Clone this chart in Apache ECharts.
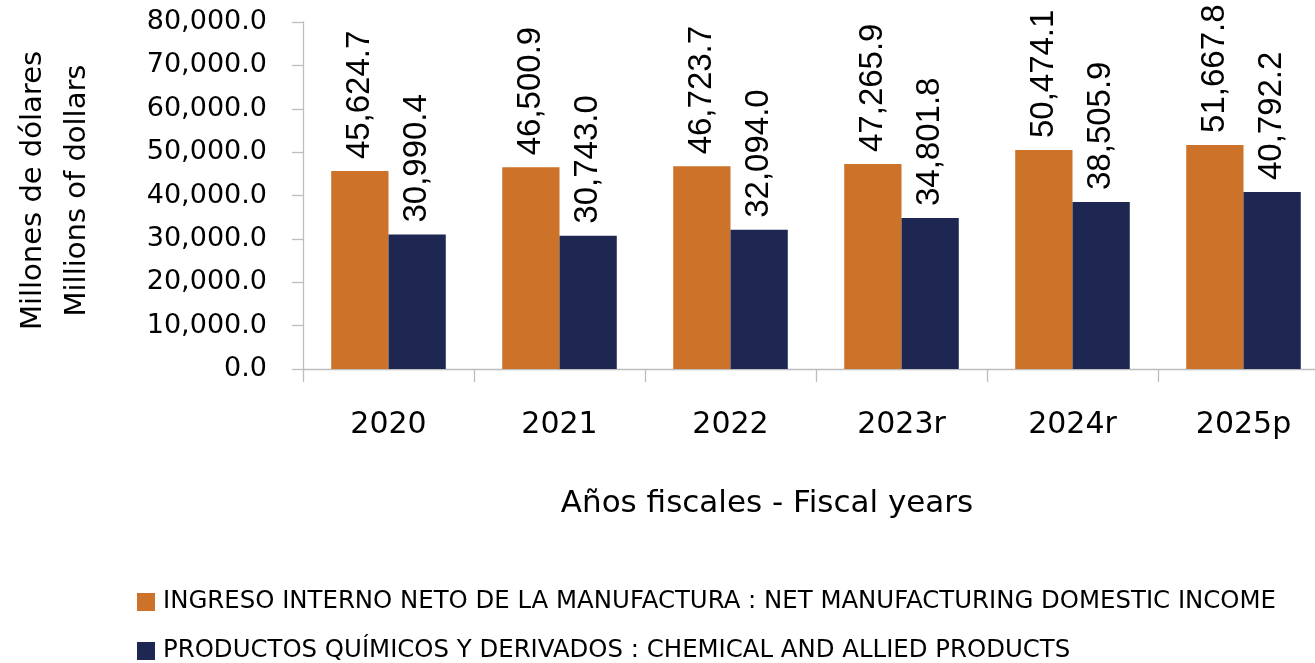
<!DOCTYPE html>
<html>
<head>
<meta charset="utf-8">
<script src="https://cdn.jsdelivr.net/npm/echarts@6/dist/echarts.min.js"></script>
<style>
html,body{margin:0;padding:0;background:#fff;}
#chart{width:1315px;height:663px;}
</style>
</head>
<body>
<div id="chart"></div>
<script>
const categories = ['2020', '2021', '2022', '2023r', '2024r', '2025p'];
const manufacturing = [45624.7, 46500.9, 46723.7, 47265.9, 50474.1, 51667.8];
const chemical = [30990.4, 30743.0, 32094.0, 34801.8, 38505.9, 40792.2];
const seriesNames = [
  'INGRESO INTERNO NETO DE LA MANUFACTURA : NET MANUFACTURING DOMESTIC INCOME',
  'PRODUCTOS QUÍMICOS Y DERIVADOS : CHEMICAL AND ALLIED PRODUCTS'
];
const yTitle = 'Millones de dólares\nMillions of dollars';
const xTitle = 'Años fiscales - Fiscal years';

const fmt = v => Number(v).toLocaleString('en-US', {minimumFractionDigits: 1, maximumFractionDigits: 1});
const FONT = 'DejaVu Sans';
const axisGray = '#BDBDBD';

const chart = echarts.init(document.getElementById('chart'));
const barLabel = {
  show: true,
  position: 'top',
  rotate: 90,
  align: 'left',
  verticalAlign: 'middle',
  distance: 12,
  fontFamily: 'Liberation Sans',
  fontSize: 33,
  color: '#000',
  formatter: p => fmt(p.value)
};
chart.setOption({
  animation: false,
  backgroundColor: '#fff',
  grid: {left: 303, top: 22, width: 1026, height: 347, containLabel: false, outerBoundsMode: 'none'},
  legend: {
    orient: 'vertical',
    left: 137,
    top: 590,
    height: 200,
    padding: 0,
    itemWidth: 18,
    itemHeight: 18,
    itemGap: 25,
    icon: 'rect',
    textStyle: {fontFamily: FONT, fontSize: 24.4, color: '#000', padding: [0, 0, 0, 3]},
    data: seriesNames
  },
  xAxis: {
    type: 'category',
    data: categories,
    axisLine: {lineStyle: {color: axisGray, width: 1.3}},
    axisTick: {show: true, length: 13, lineStyle: {color: axisGray, width: 1.3}},
    axisLabel: {fontFamily: FONT, fontSize: 30, color: '#000', margin: 41}
  },
  yAxis: {
    type: 'value',
    min: 0,
    max: 80000,
    interval: 10000,
    name: yTitle,
    nameLocation: 'middle',
    nameRotate: 90,
    nameGap: 204,
    nameTextStyle: {fontFamily: FONT, fontSize: 29, color: '#000', lineHeight: 44, padding: [0, 0, 0, 10]},
    splitLine: {show: false},
    axisLine: {show: true, lineStyle: {color: axisGray, width: 1.3}},
    axisTick: {show: true, length: 11, lineStyle: {color: axisGray, width: 1.3}},
    axisLabel: {fontFamily: FONT, fontSize: 27, color: '#000', margin: 36, formatter: v => fmt(v)}
  },
  graphic: [{
    type: 'text',
    x: 767,
    y: 504,
    style: {text: xTitle, align: 'center', verticalAlign: 'middle', font: '31px "DejaVu Sans"', fill: '#000'}
  }],
  series: [
    {
      name: seriesNames[0], type: 'bar', data: manufacturing,
      itemStyle: {color: '#CC7229'},
      barGap: '0%', barCategoryGap: '33%',
      label: barLabel
    },
    {
      name: seriesNames[1], type: 'bar', data: chemical,
      itemStyle: {color: '#1E2751'},
      barGap: '0%', barCategoryGap: '33%',
      label: barLabel
    }
  ]
});
</script>
</body>
</html>
